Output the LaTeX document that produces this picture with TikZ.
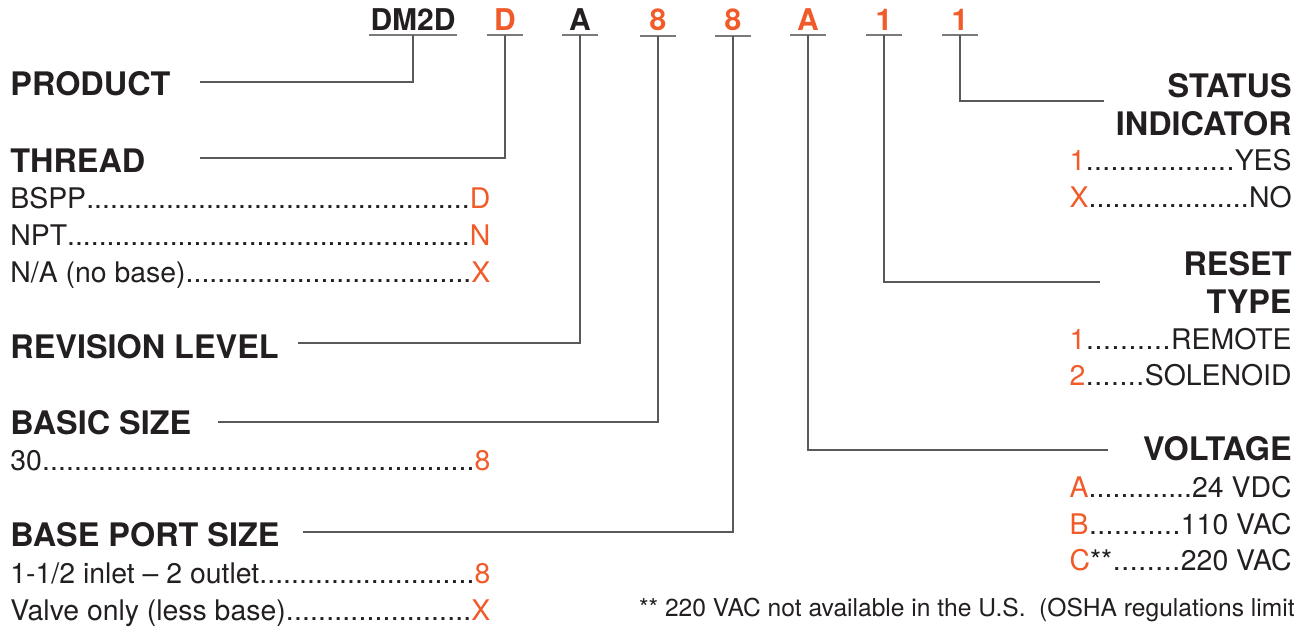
\documentclass[tikz,border=0pt]{standalone}
\usepackage{fontspec}
\setmainfont{TeX Gyre Heros}
\definecolor{ink}{HTML}{231F20}
\definecolor{orng}{HTML}{F15A29}
\definecolor{rule}{HTML}{58595B}
\newcommand{\lrow}[2]{\makebox[240pt]{#1\xleaders\hbox{.}\hfill\textcolor{orng}{#2}}}
\newcommand{\rrow}[3][]{\makebox[111pt]{\textcolor{orng}{#2}#1\xleaders\hbox{.}\hfill#3}}
\tikzset{
    HD/.style ={font=\bfseries\fontsize{16.2}{19}\selectfont, text=ink, inner sep=0pt},
    HR/.style ={HD, align=right, anchor=north east},
    IT/.style ={font=\fontsize{14.2}{18}\selectfont, text=ink, inner sep=0pt},
    NT/.style ={font=\fontsize{12.3}{14}\selectfont, text=ink, inner sep=0pt, anchor=base east},
    CD1/.style ={font=\bfseries\fontsize{15}{18}\selectfont, text=ink, inner xsep=0pt, inner ysep=2.5pt, minimum width=17.5pt, anchor=base},
    CD2/.style ={CD1, text=orng},
    UL/.style ={draw=rule!80, line width=1pt},
    LD/.style ={draw=rule, line width=0.7pt}}
\begin{document}
\begin{tikzpicture}[x=0.5pt,y=-0.5pt]
        \useasboundingbox (0,0) rectangle (1309,629);
        % model code
        \node[CD1,minimum width=44pt] (cDM) at(413,30){DM2D};
        \node[CD2] (cTh) at(505,30){D};
        \node[CD1] (cRv) at(580,30){A};
        \node[CD2] (cBs) at(658,30){8};
        \node[CD2] (cPt) at(733,30){8};
        \node[CD2] (cVt) at(808,30){A};
        \node[CD2] (cRs) at(884,30){1};
        \node[CD2] (cSt) at(960,30){1};
        \draw[UL] (cDM.south west) -- (cDM.south east);
        \draw[UL] (cTh.south west) -- (cTh.south east);
        \draw[UL] (cRv.south west) -- (cRv.south east);
        \draw[UL] (cBs.south west) -- (cBs.south east);
        \draw[UL] (cPt.south west) -- (cPt.south east);
        \draw[UL] (cVt.south west) -- (cVt.south east);
        \draw[UL] (cRs.south west) -- (cRs.south east);
        \draw[UL] (cSt.south west) -- (cSt.south east);
        % left column
        \node[HD,anchor=base west] (hProd) at(10,95){PRODUCT};
        \node[HD,anchor=base west] (hThr) at(10,172){THREAD};
        \node[IT,anchor=base west] (iThr1) at(10,208){\lrow{BSPP}{D}};
        \node[IT,anchor=base west] (iThr2) at(10,245){\lrow{NPT}{N}};
        \node[IT,anchor=base west] (iThr3) at(10,282){\lrow{N/A (no base)}{X}};
        \node[HD,anchor=base west] (hRev) at(10,358){REVISION LEVEL};
        \node[HD,anchor=base west] (hBas) at(10,434){BASIC SIZE};
        \node[IT,anchor=base west] (iBas1) at(10,470){\lrow{30}{8}};
        \node[HD,anchor=base west] (hPort) at(10,546){BASE PORT SIZE};
        \node[IT,anchor=base west] (iPort1) at(10,583){\lrow{1-1/2 inlet -- 2 outlet}{8}};
        \node[IT,anchor=base west] (iPort2) at(10,620){\lrow{Valve only (less base)}{X}};
        % right column
        \node[HR] (hStat) at(1292,73){STATUS\\INDICATOR};
        \node[IT,anchor=base east] (iStat1) at(1292,170){\rrow{1}{YES}};
        \node[IT,anchor=base east] (iStat2) at(1292,207){\rrow{X}{NO}};
        \node[HR] (hRes) at(1292,251){RESET\\TYPE};
        \node[IT,anchor=base east] (iRes1) at(1292,349){\rrow{1}{REMOTE}};
        \node[IT,anchor=base east] (iRes2) at(1292,385){\rrow{2}{SOLENOID}};
        \node[HD,anchor=base east] (hVolt) at(1292,460){VOLTAGE};
        \node[IT,anchor=base east] (iVolt1) at(1292,497){\rrow{A}{24 VDC}};
        \node[IT,anchor=base east] (iVolt2) at(1292,534){\rrow{B}{110 VAC}};
        \node[IT,anchor=base east] (iVolt3) at(1292,570){\rrow[**]{C}{220 VAC}};
        \node[NT] (note) at(1295,616){** 220 VAC not available in the U.S.\ \ (OSHA regulations limit};
        % leader ends
        \coordinate (eProd) at(200,82);
        \coordinate (eThr) at(200,158);
        \coordinate (eRev) at(298,343);
        \coordinate (eBas) at(218,422);
        \coordinate (ePort) at(303,532);
        \coordinate (eVolt) at(1108,450);
        \coordinate (eRes) at(1100,282);
        \coordinate (eStat) at(1104,101);
        \draw[LD] (cDM.south) |- (eProd);
        \draw[LD] (cTh.south) |- (eThr);
        \draw[LD] (cRv.south) |- (eRev);
        \draw[LD] (cBs.south) |- (eBas);
        \draw[LD] (cPt.south) |- (ePort);
        \draw[LD] (cVt.south) |- (eVolt);
        \draw[LD] (cRs.south) |- (eRes);
        \draw[LD] (cSt.south) |- (eStat);
    \end{tikzpicture}
\end{document}
